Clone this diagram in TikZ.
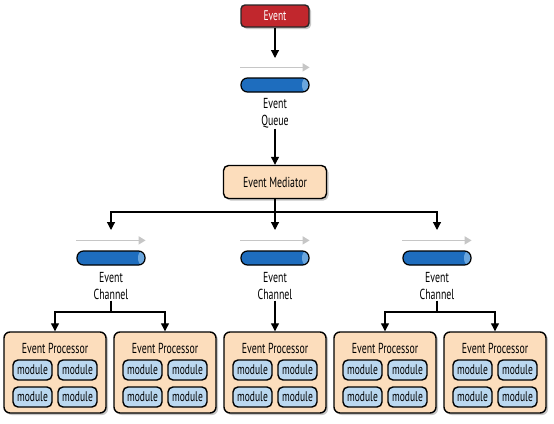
\documentclass[tikz,border=0pt]{standalone}
\usepackage{fontspec}
\setmainfont[FakeStretch=0.68]{PT Sans}
\usetikzlibrary{arrows.meta,shadows,calc}
\definecolor{evred}{HTML}{C1272D}
\definecolor{peach}{HTML}{FCDDBC}
\definecolor{modblue}{HTML}{BBD8F0}
\definecolor{pipeblue}{HTML}{1E6DBE}
\definecolor{pipeend}{HTML}{6AA6DE}
\definecolor{flowgray}{HTML}{C6C6C6}
\tikzset{
  arr/.style={line width=1.2pt, -{Triangle[length=8pt,width=8pt]}},
  flow/.style={flowgray, line width=1.6pt, -{Triangle[length=7pt,width=8pt]}},
  shade/.style={drop shadow={shadow xshift=2pt, shadow yshift=-2pt, fill=gray!55, opacity=.8}},
  eventbox/.style={draw=black!85, line width=1.4pt, rounded corners=4pt, fill=evred, text=white,
    minimum width=68pt, minimum height=22pt, font=\fontsize{14}{16}\selectfont, shade},
  medbox/.style={draw=black, line width=1.4pt, rounded corners=5pt, fill=peach,
    minimum width=103pt, minimum height=33pt, font=\fontsize{14.5}{16}\selectfont, shade},
  procbox/.style={draw=black, line width=1.4pt, rounded corners=6pt, fill=peach,
    minimum width=102pt, minimum height=81pt, shade},
  proctitle/.style={font=\fontsize{14.5}{16}\selectfont, inner sep=0pt},
  modbox/.style={draw=black, line width=1.4pt, rounded corners=5pt, fill=modblue,
    minimum width=39pt, minimum height=20pt, inner sep=0pt, font=\fontsize{14}{16}\selectfont},
  pipe/.style={draw=black, line width=1.2pt, minimum width=68pt, minimum height=14pt,
    inner sep=0pt, rounded corners=6.5pt, fill=pipeblue,
    path picture={\fill[pipeend] ([xshift=-3.6pt]path picture bounding box.east) ellipse (3.4pt and 6.6pt);}},
  pipelbl/.style={align=center, font=\fontsize{14.5}{16.5}\selectfont, inner sep=1pt}
}
\begin{document}
\begin{tikzpicture}[x=1pt, y=-1pt]
\useasboundingbox (0,0) rectangle (554,423);

% event and queue
\node[eventbox] (ev) at (275,16) {Event};
\coordinate (qin) at (275,58);
\node[pipe] (queue) at (275,85) {};
\draw[flow] ([yshift=10pt]queue.north west) -- ([yshift=10pt]queue.north east);
\node[pipelbl] (qlbl) at (275,113) {Event\\Queue};
\draw[arr] (ev) -- (qin);

% mediator
\node[medbox] (med) at (275,182) {Event Mediator};
\draw[arr] (qlbl) -- (med);

% channels
\coordinate (split) at (275,212);
\foreach \c/\x in {chA/111, chB/275, chC/437} {
  \coordinate (\c-in) at (\x,230);
  \node[pipe] (\c) at (\x,258) {};
  \draw[flow] ([yshift=10pt]\c.north west) -- ([yshift=10pt]\c.north east);
  \node[pipelbl] (\c-lbl) at (\x,286) {Event\\Channel};
}
\draw[line width=1.2pt] (med) -- (split);
\draw[arr] (split) -| (chA-in);
\draw[arr] (split) -| (chC-in);
\draw[arr] (split) -- (chB-in);

% processors
\foreach \n/\x in {p1/55, p2/165, p3/275, p4/385, p5/495} {
  \node[procbox] (\n) at (\x,372.5) {};
  \node[proctitle] (\n-t) at (\x,348) {Event Processor};
  \foreach \dx/\y [count=\i] in {-22.5/370, 22.5/370, -22.5/397, 22.5/397}
    \node[modbox] (\n-m\i) at (\x+\dx,\y) {module};
}
\coordinate (splitA) at (111,312);
\coordinate (splitC) at (437,312);
\draw[line width=1.2pt] (chA-lbl) -- (splitA);
\draw[arr] (splitA) -| (p1);
\draw[arr] (splitA) -| (p2);
\draw[arr] (chB-lbl) -- (p3);
\draw[line width=1.2pt] (chC-lbl) -- (splitC);
\draw[arr] (splitC) -| (p4);
\draw[arr] (splitC) -| (p5);
\end{tikzpicture}
\end{document}
